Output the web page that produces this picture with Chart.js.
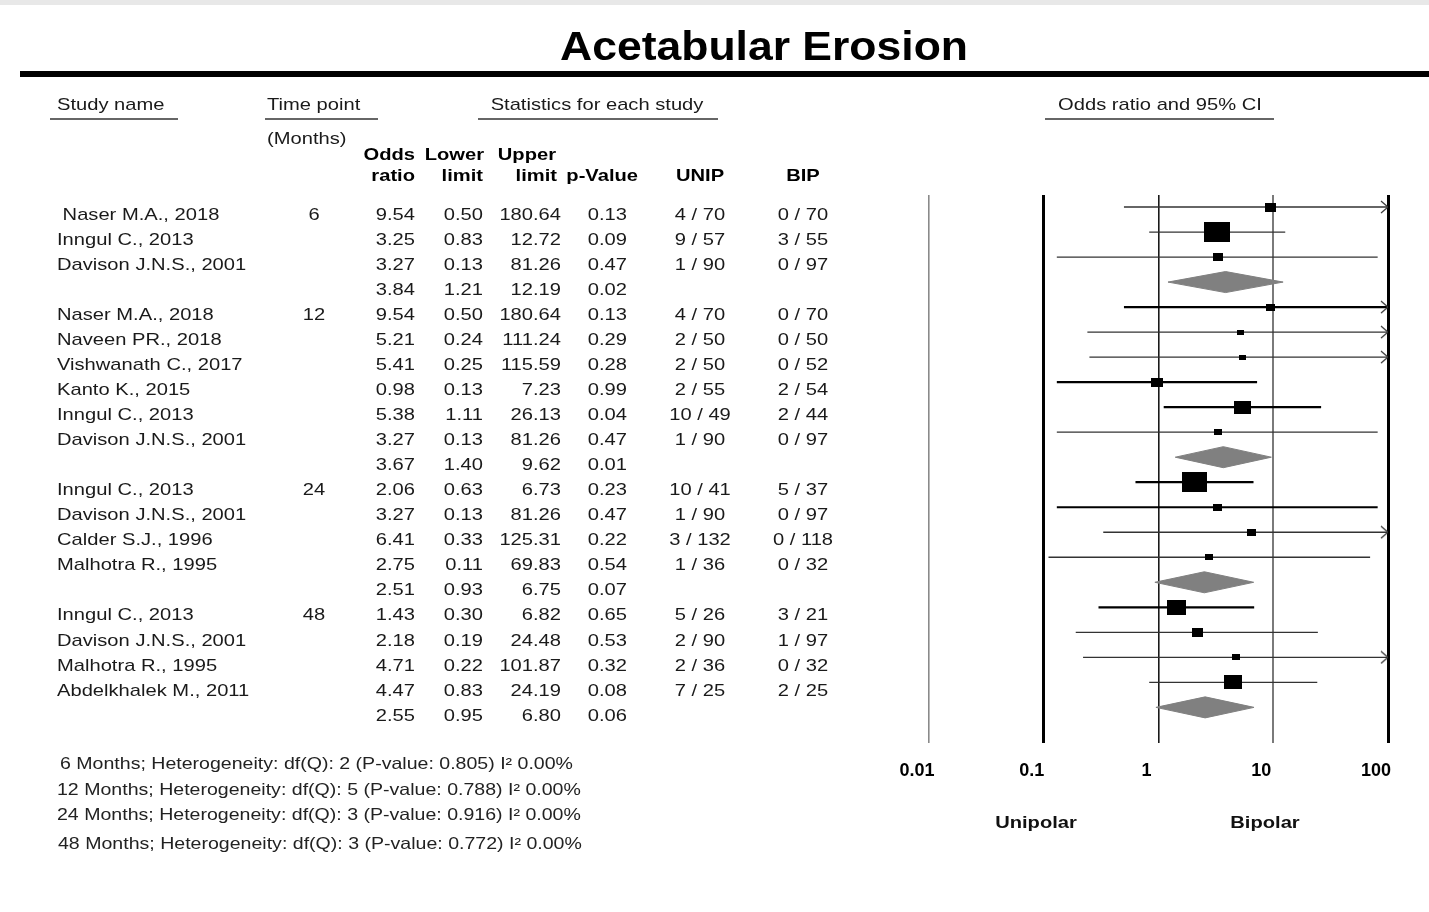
<!DOCTYPE html>
<html>
<head>
<meta charset="utf-8">
<script src="https://cdn.jsdelivr.net/npm/chart.js@4.4.1/dist/chart.umd.min.js"></script>
<style>
  html, body { margin: 0; padding: 0; background: #ffffff; }
  #wrap { position: relative; width: 1429px; height: 912px; overflow: hidden; }
  canvas { display: block; }
</style>
</head>
<body>
<div id="wrap"><canvas id="c" width="1429" height="912"></canvas></div>
<script>
// ---------------- DATA ----------------
const chartTitle = "Acetabular Erosion";
const studyNames = [
  " Naser M.A., 2018", "Inngul C., 2013", "Davison J.N.S., 2001", "",
  "Naser M.A., 2018", "Naveen PR., 2018", "Vishwanath C., 2017", "Kanto K., 2015",
  "Inngul C., 2013", "Davison J.N.S., 2001", "",
  "Inngul C., 2013", "Davison J.N.S., 2001", "Calder S.J., 1996", "Malhotra R., 1995", "",
  "Inngul C., 2013", "Davison J.N.S., 2001", "Malhotra R., 1995", "Abdelkhalek M., 2011", ""
];
const timePoints = ["6", "", "", "", "12", "", "", "", "", "", "", "24", "", "", "", "", "48", "", "", "", ""];
const oddsRatio = [9.54, 3.25, 3.27, 3.84, 9.54, 5.21, 5.41, 0.98, 5.38, 3.27, 3.67, 2.06, 3.27, 6.41, 2.75, 2.51, 1.43, 2.18, 4.71, 4.47, 2.55];
const lowerLimit = [0.50, 0.83, 0.13, 1.21, 0.50, 0.24, 0.25, 0.13, 1.11, 0.13, 1.40, 0.63, 0.13, 0.33, 0.11, 0.93, 0.30, 0.19, 0.22, 0.83, 0.95];
const upperLimit = [180.64, 12.72, 81.26, 12.19, 180.64, 111.24, 115.59, 7.23, 26.13, 81.26, 9.62, 6.73, 81.26, 125.31, 69.83, 6.75, 6.82, 24.48, 101.87, 24.19, 6.80];
const pValues = [0.13, 0.09, 0.47, 0.02, 0.13, 0.29, 0.28, 0.99, 0.04, 0.47, 0.01, 0.23, 0.47, 0.22, 0.54, 0.07, 0.65, 0.53, 0.32, 0.08, 0.06];
const unipEvents = ["4 / 70", "9 / 57", "1 / 90", "", "4 / 70", "2 / 50", "2 / 50", "2 / 55", "10 / 49", "1 / 90", "", "10 / 41", "1 / 90", "3 / 132", "1 / 36", "", "5 / 26", "2 / 90", "2 / 36", "7 / 25", ""];
const bipEvents = ["0 / 70", "3 / 55", "0 / 97", "", "0 / 70", "0 / 50", "0 / 52", "2 / 54", "2 / 44", "0 / 97", "", "5 / 37", "0 / 97", "0 / 118", "0 / 32", "", "3 / 21", "1 / 97", "0 / 32", "2 / 25", ""];
// relative study weight (null = pooled summary row)
const studyWeights = [19, 100, 16, null, 12, 7.5, 7.5, 22, 44, 10, null, 95, 13.5, 12, 10, null, 54, 20, 9, 47, null];
const heterogeneity = [
  "6 Months; Heterogeneity: df(Q): 2 (P-value: 0.805) I\u00B2 0.00%",
  "12 Months; Heterogeneity: df(Q): 5 (P-value: 0.788) I\u00B2 0.00%",
  "24 Months; Heterogeneity: df(Q): 3 (P-value: 0.916) I\u00B2 0.00%",
  "48 Months; Heterogeneity: df(Q): 3 (P-value: 0.772) I\u00B2 0.00%"
];
const tickValues = [0.01, 0.1, 1, 10, 100];
const tickLabels = ["0.01", "0.1", "1", "10", "100"];
const favourLabels = ["Unipolar", "Bipolar"];

// ---------------- STYLE ----------------
const FONT = '"Liberation Sans", Arial, Helvetica, sans-serif';
const SX = 1.185;              // horizontal stretch of the original rendering
const X_MIN = 0.01, X_MAX = 100;
const thickRows = [4, 7, 8, 11, 12, 16];
const gridColors = ['#8a8a8a', '#000000', '#1a1a1a', '#7a7a7a', '#000000'];
const gridWidths = [1.6, 3, 1.6, 2, 3];
const DIAMOND_HALF = 0.42;

function makeBox(weight) {
  const w = Math.max(6, Math.round(25.6 * Math.sqrt(weight / 100)));
  const h = Math.max(5, Math.round(w * 0.78));
  const c = document.createElement('canvas');
  c.width = w; c.height = h;
  const g = c.getContext('2d');
  g.fillStyle = '#000';
  g.fillRect(0, 0, w, h);
  return c;
}
function makeArrow() {
  const c = document.createElement('canvas');
  c.width = 16; c.height = 14;
  const g = c.getContext('2d');
  g.strokeStyle = '#333';
  g.lineWidth = 1.2;
  g.beginPath();
  g.moveTo(1, 1); g.lineTo(8, 7); g.lineTo(1, 13);
  g.stroke();
  return c;
}

// ---------------- DATASETS ----------------
const datasets = [];
const boxData = [], boxStyles = [];
studyWeights.forEach((w, i) => {
  if (w == null) return;
  boxData.push({ x: oddsRatio[i], y: i });
  boxStyles.push(makeBox(w));
});
datasets.push({
  label: 'Odds ratio', data: boxData, showLine: false, order: 0,
  pointRadius: 3, pointHoverRadius: 3,
  pointStyle: ctx => boxStyles[ctx.dataIndex || 0]
});

const arrowCanvas = makeArrow();
const arrowData = [];
upperLimit.forEach((u, i) => { if (studyWeights[i] != null && u > X_MAX) arrowData.push({ x: X_MAX, y: i }); });
datasets.push({
  label: 'Clipped CI', data: arrowData, showLine: false, order: 1,
  pointRadius: 3, pointHoverRadius: 3, pointStyle: arrowCanvas
});

studyWeights.forEach((w, i) => {
  if (w == null) {
    datasets.push({
      label: 'Pooled ' + i,
      data: [
        { x: lowerLimit[i], y: i }, { x: oddsRatio[i], y: i - DIAMOND_HALF },
        { x: upperLimit[i], y: i }, { x: oddsRatio[i], y: i + DIAMOND_HALF },
        { x: lowerLimit[i], y: i }
      ],
      showLine: true, fill: 'shape', tension: 0,
      backgroundColor: '#808080', borderColor: '#808080', borderWidth: 1,
      pointRadius: 0, order: 3
    });
  } else {
    const thick = thickRows.includes(i);
    datasets.push({
      label: 'CI ' + i,
      data: [{ x: lowerLimit[i], y: i }, { x: Math.min(upperLimit[i], X_MAX), y: i }],
      showLine: true, fill: false,
      borderColor: thick ? '#000' : '#333',
      borderWidth: thick ? 2.2 : 1.3,
      pointRadius: 0, order: 2
    });
  }
});

// ---------------- TEXT PLUGIN ----------------
function txt(ctx, s, x, y, opt) {
  opt = opt || {};
  const size = opt.size || 17;
  ctx.save();
  ctx.font = (opt.bold ? 'bold ' : '') + size + 'px ' + FONT;
  ctx.fillStyle = opt.color || '#1a1a1a';
  ctx.textBaseline = 'middle';
  ctx.textAlign = 'left';
  let sx = opt.sx || SX;
  const mw = ctx.measureText(s).width;
  if (opt.width) sx = opt.width / mw;
  const w = mw * sx;
  let left = x;
  if (opt.align === 'center') left = x - w / 2;
  else if (opt.align === 'right') left = x - w;
  ctx.translate(left, y);
  ctx.scale(sx, 1);
  ctx.fillText(s, 0, 0);
  ctx.restore();
}
function hline(ctx, x1, x2, y, lw, color) {
  ctx.save();
  ctx.strokeStyle = color; ctx.lineWidth = lw;
  ctx.beginPath(); ctx.moveTo(x1, y); ctx.lineTo(x2, y); ctx.stroke();
  ctx.restore();
}

const tablePlugin = {
  id: 'forestTable',
  beforeDraw(chart) {
    const ctx = chart.ctx;
    ctx.save();
    ctx.fillStyle = '#ffffff';
    ctx.fillRect(0, 0, chart.width, chart.height);
    ctx.fillStyle = '#e8e8e8';
    ctx.fillRect(0, 0, chart.width, 5);
    ctx.restore();
  },
  afterDraw(chart) {
    const ctx = chart.ctx;
    const ys = chart.scales.y;
    // title + rule
    txt(ctx, chartTitle, 764, 49, { bold: true, size: 40, color: '#000', align: 'center', width: 408 });
    ctx.save(); ctx.fillStyle = '#000'; ctx.fillRect(20, 71, 1409, 6); ctx.restore();

    // headers
    txt(ctx, 'Study name', 57, 105, {});
    hline(ctx, 50, 178, 119, 1.5, '#333');
    txt(ctx, 'Time point', 267, 105, {});
    hline(ctx, 265, 378, 119, 1.5, '#333');
    txt(ctx, 'Statistics for each study', 597, 105, { align: 'center' });
    hline(ctx, 478, 718, 119, 1.5, '#333');
    txt(ctx, 'Odds ratio and 95% CI', 1160, 105, { align: 'center' });
    hline(ctx, 1045, 1274, 119, 1.5, '#333');
    txt(ctx, '(Months)', 267, 139, {});

    const hb = { bold: true, color: '#000' };
    txt(ctx, 'Odds', 415, 155, Object.assign({ align: 'right' }, hb));
    txt(ctx, 'ratio', 415, 176, Object.assign({ align: 'right' }, hb));
    txt(ctx, 'Lower', 484, 155, Object.assign({ align: 'right' }, hb));
    txt(ctx, 'limit', 483, 176, Object.assign({ align: 'right' }, hb));
    txt(ctx, 'Upper', 556, 155, Object.assign({ align: 'right' }, hb));
    txt(ctx, 'limit', 557, 176, Object.assign({ align: 'right' }, hb));
    txt(ctx, 'p-Value', 638, 176, Object.assign({ align: 'right' }, hb));
    txt(ctx, 'UNIP', 700, 176, Object.assign({ align: 'center' }, hb));
    txt(ctx, 'BIP', 803, 176, Object.assign({ align: 'center' }, hb));

    // rows
    for (let i = 0; i < oddsRatio.length; i++) {
      const y = ys.getPixelForValue(i) + 8.5;
      if (studyNames[i]) txt(ctx, studyNames[i], 57, y, {});
      if (timePoints[i]) txt(ctx, timePoints[i], 314, y, { align: 'center' });
      txt(ctx, oddsRatio[i].toFixed(2), 415, y, { align: 'right' });
      txt(ctx, lowerLimit[i].toFixed(2), 483, y, { align: 'right' });
      txt(ctx, upperLimit[i].toFixed(2), 561, y, { align: 'right' });
      txt(ctx, pValues[i].toFixed(2), 627, y, { align: 'right' });
      if (unipEvents[i]) txt(ctx, unipEvents[i], 700, y, { align: 'center' });
      if (bipEvents[i]) txt(ctx, bipEvents[i], 803, y, { align: 'center' });
    }

    // heterogeneity
    const hx = [60, 57, 57, 58], hy = [764, 790, 815, 844];
    heterogeneity.forEach((s, k) => txt(ctx, s, hx[k], hy[k], { size: 16.5, color: '#222' }));

    // favours labels
    txt(ctx, favourLabels[0], 1036, 823, { bold: true, color: '#111', align: 'center' });
    txt(ctx, favourLabels[1], 1265, 823, { bold: true, color: '#111', align: 'center' });
  }
};

// ---------------- CHART ----------------
new Chart(document.getElementById('c'), {
  type: 'scatter',
  data: { datasets },
  options: {
    responsive: false,
    animation: false,
    events: [],
    layout: { padding: { left: 929, right: 41, top: 195, bottom: 113 } },
    plugins: { legend: { display: false }, tooltip: { enabled: false } },
    scales: {
      x: {
        type: 'logarithmic', min: X_MIN, max: X_MAX, position: 'bottom',
        afterBuildTicks: s => { s.ticks = tickValues.map(v => ({ value: v })); },
        ticks: {
          autoSkip: false, maxRotation: 0, padding: 17, labelOffset: -12,
          color: '#000',
          font: { family: FONT, size: 18, weight: 'bold' },
          callback: (v, i) => tickLabels[i]
        },
        grid: {
          drawTicks: false,
          color: c => gridColors[c.index] || '#000',
          lineWidth: c => gridWidths[c.index] || 1
        },
        border: { display: false }
      },
      y: { type: 'linear', reverse: true, min: -0.48, max: 21.44, display: false }
    }
  },
  plugins: [tablePlugin]
});
</script>
</body>
</html>
